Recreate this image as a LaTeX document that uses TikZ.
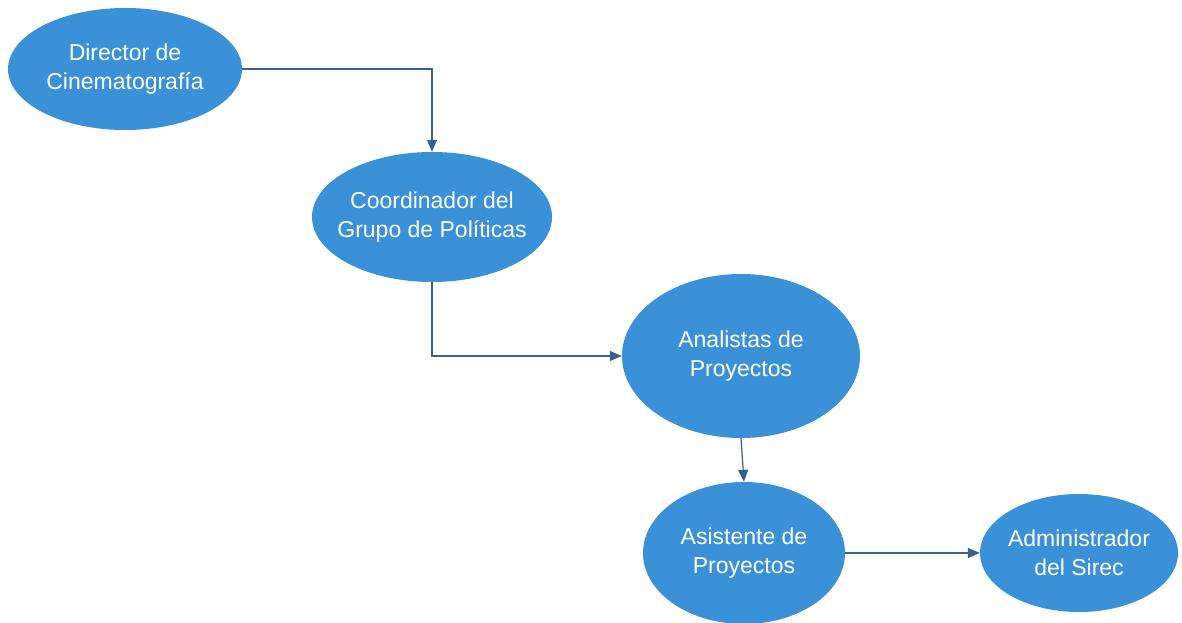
\documentclass[tikz,border=0pt]{standalone}
\usepackage{fontspec}
\setmainfont{Liberation Sans}
\usetikzlibrary{shapes.geometric,arrows.meta}
\definecolor{nodeblue}{RGB}{58,145,215}
\definecolor{linecol}{RGB}{52,98,140}
\tikzset{
  role/.style={ellipse, fill=nodeblue, draw=none, inner sep=-40pt, text=white,
    align=center, font=\fontsize{23}{29}\selectfont},
  link/.style={draw=linecol, line width=1.2pt, -{Triangle[length=12pt,width=10pt]}}
}
\begin{document}
\begin{tikzpicture}[x=1pt,y=-1pt]
\useasboundingbox (0,0) rectangle (1182,623);
\node[role, minimum width=234pt, minimum height=122pt] (dir) at (125,69) {Director de\\Cinematografía};
\node[role, minimum width=240pt, minimum height=130pt] (coo) at (432,217) {Coordinador del\\Grupo de Políticas};
\node[role, minimum width=238pt, minimum height=164pt] (ana) at (741,356) {Analistas de\\Proyectos};
\node[role, minimum width=202pt, minimum height=142pt] (asi) at (744,553) {Asistente de\\Proyectos};
\node[role, minimum width=198pt, minimum height=118pt] (adm) at (1079,553) {Administrador\\del Sirec};
\draw[link] (dir.east) -| (coo.north);
\draw[link] (coo.south) |- (ana.west);
\draw[link] (ana.south) -- (asi.north);
\draw[link] (asi.east) -- (adm.west);
\end{tikzpicture}
\end{document}
